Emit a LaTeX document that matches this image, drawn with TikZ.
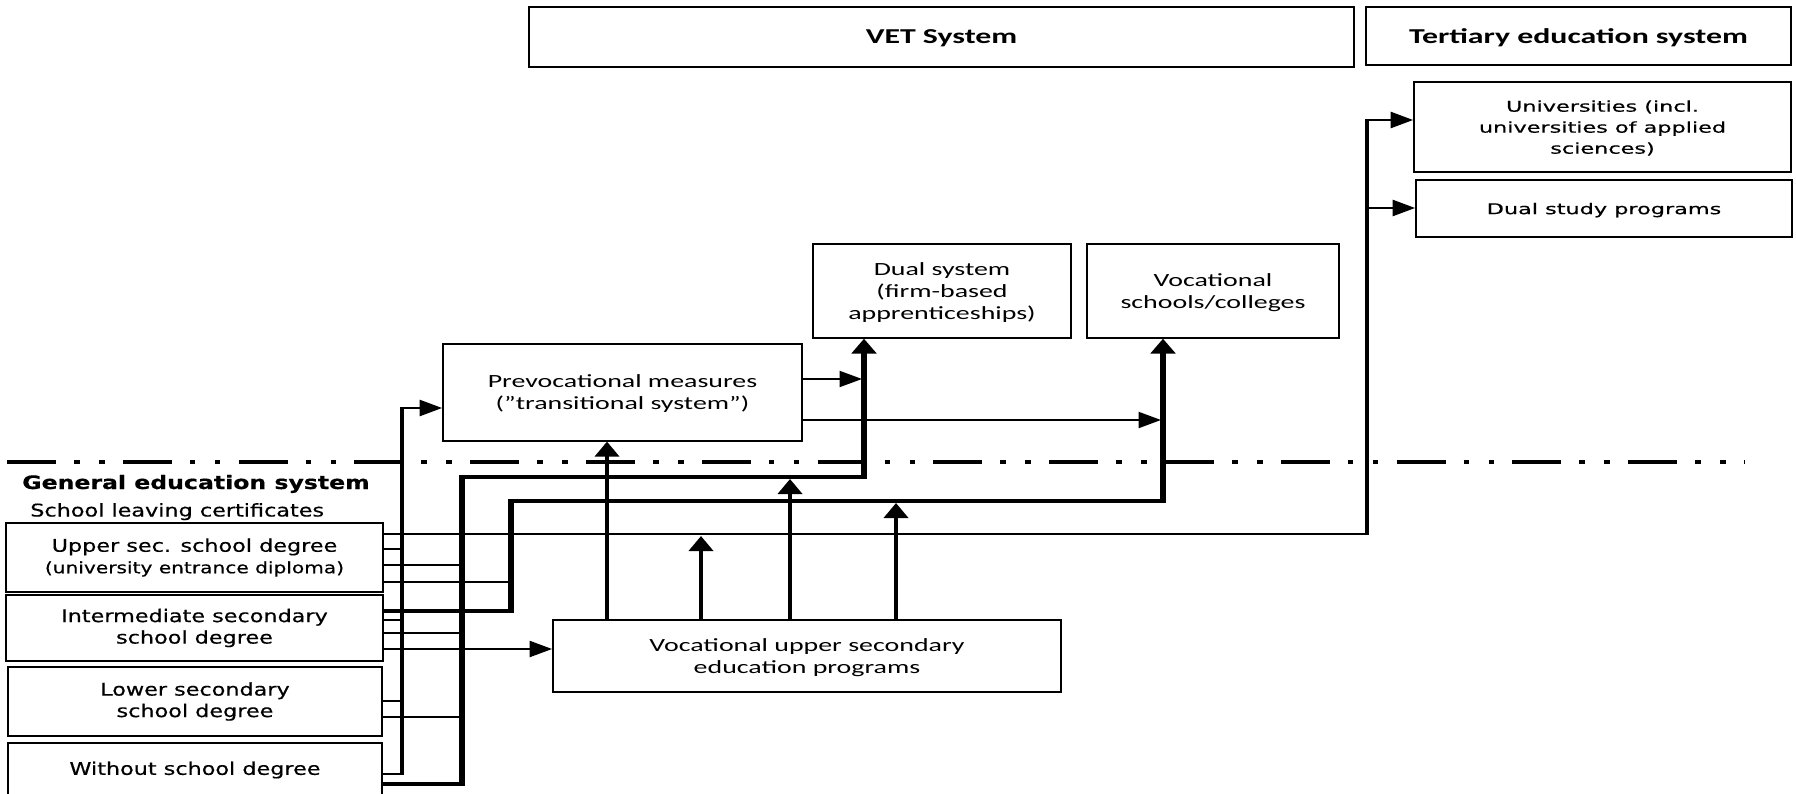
\documentclass[tikz,border=0pt]{standalone}
\usepackage{fontspec}
\usetikzlibrary{arrows.meta}
\newfontfamily\calf{Carlito}
\newfontfamily\verf{DejaVu Sans}[FakeStretch=0.85, FakeBold=0.4]
\newfontfamily\vers{DejaVu Sans}[FakeBold=0.4]
\begin{document}
\begin{tikzpicture}[x=1pt,y=-1pt]
\useasboundingbox (0,0) rectangle (1796,794);
\begin{scope}[x=0.666667pt, y=-1pt, transform canvas={xscale=1.5},
  box/.style={draw, line width=1.2pt, inner sep=0pt, align=center},
  cal/.style={font=\calf\fontsize{18.6}{22}\selectfont, text depth=0pt},
  calhead/.style={font=\calf\bfseries\fontsize{21.2}{25}\selectfont, text depth=0pt},
  ver/.style={font=\verf\fontsize{17.5}{21.5}\selectfont},
  vert/.style={font=\vers\fontsize{14.9}{21}\selectfont, text depth=0pt},
  arr/.style={-{Triangle[length=15pt,width=16pt]}},
  tk/.style={line width=1.8pt},
  lA/.style={line width=2.6pt, line join=miter},
  lB/.style={line width=3.4pt, line join=miter},
  lL/.style={line width=2.6pt, line join=miter},
  lU/.style={line width=2.4pt},
  lP/.style={line width=2.2pt},
  lV/.style={line width=2.2pt},
  sepline/.style={line width=4pt, dash pattern=on 32.7pt off 12pt on 3.7pt off 12.9pt on 3.7pt off 12.2pt}
]
% header boxes
\node[box, calhead, minimum width={825pt/1.5}, minimum height=60pt] (vet) at (941.5,37) {VET System};
\node[box, calhead, minimum width={425pt/1.5}, minimum height=58pt] (tert) at (1578.5,36) {Tertiary education system};
% tertiary boxes
\node[box, vert, minimum width={377pt/1.5}, minimum height=90pt] (univ) at (1602.5,127) {Universities (incl.\\universities of applied\\sciences)};
\node[box, vert, minimum width={376pt/1.5}, minimum height=57pt] (dstudy) at (1604,208.5) {Dual study programs};
% VET boxes
\node[box, cal, minimum width={258pt/1.5}, minimum height=94pt] (dual) at (942,291) {Dual system\\(firm-based\\apprenticeships)};
\node[box, cal, minimum width={252pt/1.5}, minimum height=94pt] (voc) at (1213,291) {Vocational\\schools/colleges};
\node[box, cal, minimum width={359pt/1.5}, minimum height=97pt] (prevoc) at (622.5,392.5) {Prevocational measures\\(”transitional system”)};
\node[box, cal, minimum width={508pt/1.5}, minimum height=72pt] (vus) at (807,656) {Vocational upper secondary\\education programs};
% general education labels
\node[anchor=base west, inner sep=0pt, font=\verf\bfseries\fontsize{18.5}{22}\selectfont] (gen) at (22,489) {General education system};
\node[anchor=base west, inner sep=0pt, ver] (sch) at (30,516.5) {School leaving certificates};
% certificate boxes
\node[box, ver, minimum width={377pt/1.5}, minimum height=69pt] (upper) at (194.5,557.5) {Upper sec. school degree\\{\fontsize{15.8}{18}\selectfont (university entrance diploma)}};
\node[box, ver, minimum width={377pt/1.5}, minimum height=66pt] (inter) at (194.5,628) {Intermediate secondary\\school degree};
\node[box, ver, minimum width={374pt/1.5}, minimum height=69pt] (lower) at (195,701.5) {Lower secondary\\school degree};
\node[box, ver, minimum width={374pt/1.5}, minimum height=54pt] (without) at (195,770) {Without school degree};
% separator
\coordinate (DL) at (7,462);
\coordinate (DR) at (1745,462);
\draw[sepline] (DL) -- (DR);
% junction coordinates
\coordinate (A0) at (402,774);
\coordinate (A1) at (402,408);
\coordinate (a1) at (402,549);
\coordinate (a2) at (402,620);
\coordinate (a3) at (402,701);
\coordinate (B0) at (462,784);
\coordinate (B1) at (462,477);
\coordinate (B2) at (864,477);
\coordinate (b1) at (462,565);
\coordinate (b2) at (462,633);
\coordinate (b3) at (462,717);
\coordinate (C0) at (511,611);
\coordinate (C1) at (511,501);
\coordinate (C2) at (1163,501);
\coordinate (c1) at (511,582);
\coordinate (T0) at (1367,534);
\coordinate (T1) at (1367,120);
\coordinate (T2) at (1367,208);
\coordinate (V0) at (0,649);
\coordinate (U1) at (607,0);
\coordinate (U2) at (701,536);
\coordinate (U3) at (790,479);
\coordinate (U4) at (896,503);
\coordinate (P1) at (862,379);
\coordinate (P2) at (1161,420);
% line A (prevocational)
\draw[lA,arr] (without.east |- A0) -- (A0) -- (A1) -- (prevoc.west |- A1);
\draw[tk] (upper.east |- a1) -- (a1);
\draw[tk] (inter.east |- a2) -- (a2);
\draw[tk] (lower.east |- a3) -- (a3);
% line B (dual system)
\draw[lB,arr] (without.east |- B0) -- (B0) -- (B1) -- (B2) -- (dual.south -| B2);
\draw[tk] (upper.east |- b1) -- (b1);
\draw[tk] (inter.east |- b2) -- (b2);
\draw[tk] (lower.east |- b3) -- (b3);
% line C (vocational schools)
\draw[lB,arr] (inter.east |- C0) -- (C0) -- (C1) -- (C2) -- (voc.south -| C2);
\draw[tk] (upper.east |- c1) -- (c1);
% line to tertiary
\draw[lL,arr] (upper.east |- T0) -- (T0) -- (T1) -- (univ.west |- T1);
\draw[lL,arr] (T2) -- (dstudy.west |- T2);
% into vocational upper secondary
\draw[lV,arr] (inter.east |- V0) -- (vus.west |- V0);
% from vocational upper secondary upwards
\draw[lU,arr] (vus.north -| U1) -- (prevoc.south -| U1);
\draw[lU,arr] (vus.north -| U2) -- (U2);
\draw[lU,arr] (vus.north -| U3) -- (U3);
\draw[lU,arr] (vus.north -| U4) -- (U4);
% from prevocational
\draw[lP,arr] (prevoc.east |- P1) -- (P1);
\draw[lP,arr] (prevoc.east |- P2) -- (P2);
\end{scope}
\end{tikzpicture}
\end{document}
